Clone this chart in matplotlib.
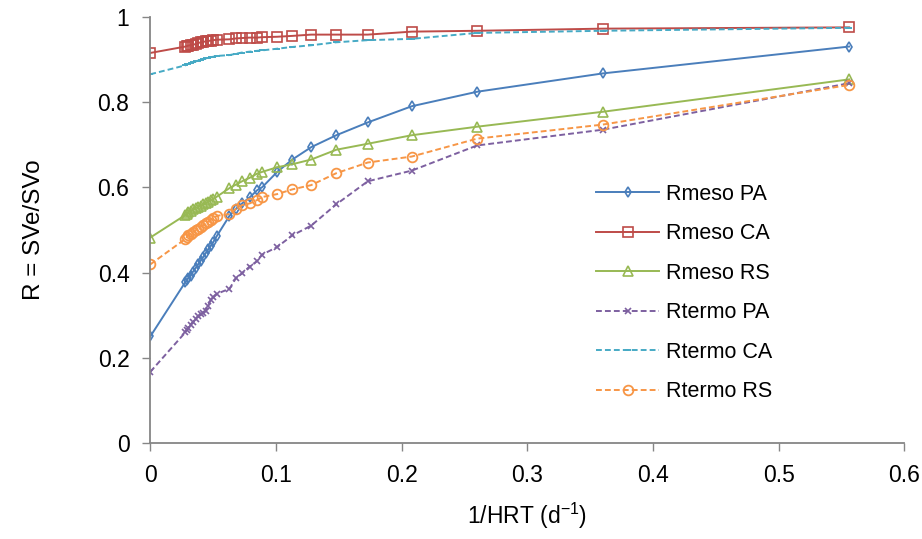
import numpy as np
from matplotlib import pyplot as plt

plt.rcParams['font.family'] = ['Liberation Sans', 'DejaVu Sans']
plt.rcParams['mathtext.fontset'] = 'custom'
plt.rcParams['mathtext.rm'] = 'Liberation Sans'
plt.rcParams['mathtext.it'] = 'Liberation Sans'

# 1/HRT (d^-1)
x = [0, 0.028, 0.029, 0.030, 0.032, 0.034, 0.036, 0.038, 0.040, 0.042,
     0.044, 0.046, 0.048, 0.050, 0.053, 0.063, 0.068, 0.073, 0.079, 0.085,
     0.089, 0.101, 0.113, 0.128, 0.148, 0.173, 0.208, 0.260, 0.360, 0.556]

rmeso_pa = [0.250, 0.378, 0.382, 0.386, 0.393, 0.402, 0.410, 0.419, 0.428, 0.436,
            0.445, 0.454, 0.462, 0.471, 0.486, 0.533, 0.549, 0.562, 0.576, 0.593,
            0.600, 0.636, 0.665, 0.694, 0.722, 0.752, 0.790, 0.824, 0.867, 0.930]
rmeso_ca = [0.915, 0.930, 0.931, 0.932, 0.933, 0.934, 0.936, 0.938, 0.940, 0.941,
            0.942, 0.943, 0.944, 0.945, 0.946, 0.947, 0.949, 0.950, 0.951, 0.951,
            0.952, 0.953, 0.955, 0.958, 0.958, 0.958, 0.965, 0.967, 0.972, 0.975]
rmeso_rs = [0.482, 0.535, 0.538, 0.541, 0.545, 0.548, 0.551, 0.554, 0.557, 0.560,
            0.563, 0.566, 0.569, 0.572, 0.578, 0.598, 0.606, 0.614, 0.622, 0.632,
            0.636, 0.647, 0.654, 0.665, 0.688, 0.702, 0.722, 0.742, 0.777, 0.853]
rtermo_pa = [0.167, 0.260, 0.265, 0.270, 0.278, 0.284, 0.290, 0.297, 0.302, 0.306,
             0.310, 0.322, 0.335, 0.342, 0.350, 0.362, 0.386, 0.398, 0.414, 0.427,
             0.442, 0.460, 0.487, 0.510, 0.560, 0.614, 0.639, 0.698, 0.735, 0.844]
rtermo_ca = [0.865, 0.886, 0.888, 0.889, 0.891, 0.893, 0.895, 0.897, 0.899, 0.901,
             0.902, 0.904, 0.905, 0.906, 0.908, 0.910, 0.913, 0.916, 0.918, 0.920,
             0.921, 0.925, 0.929, 0.933, 0.940, 0.945, 0.948, 0.962, 0.967, 0.974]
rtermo_rs = [0.419, 0.479, 0.483, 0.487, 0.491, 0.495, 0.499, 0.503, 0.507, 0.511,
             0.515, 0.519, 0.523, 0.527, 0.533, 0.537, 0.549, 0.558, 0.562, 0.570,
             0.577, 0.584, 0.595, 0.605, 0.633, 0.658, 0.672, 0.714, 0.747, 0.840]

fig = plt.figure(figsize=(9.22, 5.39), dpi=100)
ax = fig.add_axes([0.163, 0.178, 0.818, 0.791])

dash = (3, 1.6)
lw = 1.4
ax.plot(x, rmeso_pa, color='#4A7EBB', lw=lw, marker='d', ms=5, mfc='none',
        mew=1.2, label='Rmeso PA')
ax.plot(x, rmeso_ca, color='#BE4B48', lw=lw, marker='s', ms=6.5, mfc='none',
        mew=1.2, label='Rmeso CA')
ax.plot(x, rmeso_rs, color='#98B954', lw=lw, marker='^', ms=6.5, mfc='none',
        mew=1.2, label='Rmeso RS')
ax.plot(x, rtermo_pa, color='#7D60A0', lw=lw, ls=(0, dash), marker='x', ms=4.5,
        mew=1.2, label='Rtermo PA')
ax.plot(x, rtermo_ca, color='#46AAC5', lw=lw, ls=(0, dash), marker='_', ms=4,
        mew=1.4, label='Rtermo CA')
ax.plot(x, rtermo_rs, color='#F79646', lw=lw, ls=(0, dash), marker='o', ms=7,
        mfc='none', mew=1.3, label='Rtermo RS')

ax.set_xlim(0, 0.6)
ax.set_ylim(0, 1)
ax.set_xticks(np.arange(0, 0.61, 0.1))
ax.set_xticklabels(['0', '0.1', '0.2', '0.3', '0.4', '0.5', '0.6'])
ax.set_yticks(np.arange(0, 1.01, 0.2))
ax.set_yticklabels(['0', '0.2', '0.4', '0.6', '0.8', '1'])

for side in ['top', 'right']:
    ax.spines[side].set_visible(False)
for side in ['left', 'bottom']:
    ax.spines[side].set_color('#868686')
    ax.spines[side].set_linewidth(1.3)
ax.tick_params(axis='both', colors='#868686', labelcolor='black', length=6,
               width=1.0, labelsize=16.5, direction='out')
ax.tick_params(axis='x', pad=9)
ax.tick_params(axis='y', pad=9)

ax.set_xlabel('1/HRT (d$^{-1}$)', fontsize=16.5, labelpad=10)
ax.set_ylabel('R = SVe/SVo', fontsize=17.5, labelpad=38)

ax.legend(loc='upper left', bbox_to_anchor=(0.58, 0.628), frameon=False,
          fontsize=15.5, handlelength=2.9, handletextpad=0.35, labelspacing=0.86,
          borderaxespad=0)

fig.savefig('out.png', dpi=100)
